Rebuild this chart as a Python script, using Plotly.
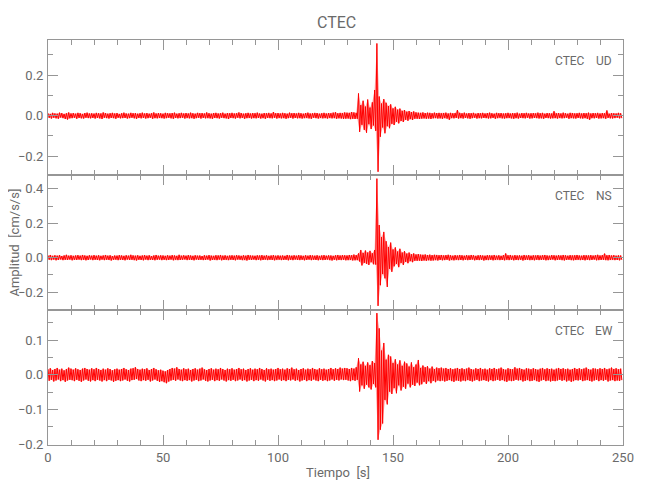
import numpy as np
import plotly.graph_objects as go

# Seismogram amplitudes, read per 1-second bin (max and min), in 1e-3 cm/s/s
DT = 1.0  # seconds per bin
UNIT = 0.001

ud_max = [
    12, 9, 14, 11, 10, 15, 13, 9, 12, 16,
    11, 13, 10, 14, 12, 9, 13, 15, 11, 12,
    10, 14, 12, 11, 16, 13, 10, 12, 14, 11,
    13, 9, 12, 15, 11, 10, 14, 12, 13, 10,
    12, 15, 11, 13, 10, 12, 16, 11, 13, 12,
    10, 14, 12, 11, 13, 15, 10, 12, 14, 11,
    13, 11, 15, 12, 10, 14, 12, 13, 11, 16,
    12, 10, 13, 14, 11, 12, 15, 10, 13, 12,
    14, 11, 12, 16, 13, 10, 12, 14, 11, 13,
    12, 15, 11, 10, 13, 12, 14, 11, 18, 12,
    13, 11, 14, 12, 10, 15, 12, 13, 11, 14,
    12, 10, 13, 15, 11, 12, 14, 13, 10, 12,
    14, 11, 13, 12, 15, 17, 12, 14, 13, 16,
    15, 14, 18, 16, 14, 110, 52, 74, 45, 80,
    40, 66, 127, 357, 95, 60, 82, 64, 48, 56,
    36, 44, 30, 35, 24, 28, 20, 23, 18, 21,
    16, 15, 14, 16, 13, 15, 14, 12, 15, 13,
    14, 12, 13, 15, 11, 14, 12, 13, 28, 14,
    12, 15, 11, 13, 12, 14, 10, 13, 12, 14,
    11, 13, 15, 12, 10, 14, 12, 13, 11, 12,
    14, 11, 13, 12, 15, 10, 13, 12, 14, 11,
    12, 13, 11, 15, 12, 14, 10, 13, 12, 11,
    22, 12, 13, 11, 15, 12, 10, 14, 13, 11,
    12, 14, 11, 13, 12, 15, 11, 13, 12, 14,
    11, 13, 12, 26, 10, 13, 12, 11, 14, 12,
]
ud_min = [
    -11, -14, -10, -13, -15, -9, -12, -16, -19, -13,
    -12, -10, -15, -11, -13, -14, -10, -12, -13, -11,
    -14, -11, -13, -16, -10, -12, -14, -11, -12, -15,
    -10, -13, -12, -11, -14, -12, -10, -13, -15, -11,
    -13, -11, -14, -12, -10, -15, -12, -13, -11, -12,
    -14, -12, -10, -13, -15, -11, -13, -12, -10, -14,
    -11, -13, -12, -15, -12, -10, -14, -11, -13, -12,
    -13, -15, -11, -12, -14, -10, -12, -13, -16, -11,
    -12, -14, -10, -13, -11, -15, -12, -11, -14, -12,
    -13, -11, -14, -12, -15, -11, -12, -13, -10, -14,
    -11, -13, -12, -15, -12, -10, -14, -11, -13, -12,
    -14, -12, -11, -13, -15, -10, -12, -14, -11, -13,
    -12, -14, -11, -13, -12, -15, -13, -14, -16, -15,
    -14, -17, -15, -16, -15, -80, -45, -70, -84, -42,
    -66, -48, -75, -277, -104, -58, -87, -52, -62, -40,
    -46, -30, -38, -26, -31, -20, -25, -17, -21, -15,
    -15, -16, -14, -13, -15, -14, -16, -13, -12, -14,
    -13, -15, -12, -14, -20, -12, -13, -11, -14, -12,
    -14, -11, -13, -15, -12, -10, -14, -12, -13, -11,
    -12, -14, -13, -11, -15, -12, -10, -13, -14, -12,
    -11, -13, -15, -12, -14, -11, -12, -13, -10, -14,
    -13, -11, -12, -14, -13, -15, -11, -12, -14, -13,
    -12, -14, -11, -13, -12, -10, -15, -12, -13, -14,
    -11, -13, -14, -12, -15, -20, -12, -13, -11, -14,
    -13, -12, -15, -11, -13, -14, -12, -10, -13, -12,
]

ns_max = [
    13, 16, 11, 14, 12, 15, 10, 13, 17, 12,
    14, 11, 13, 15, 12, 16, 13, 11, 14, 12,
    15, 12, 14, 11, 13, 16, 12, 14, 10, 13,
    12, 15, 13, 11, 14, 12, 17, 13, 12, 14,
    11, 13, 15, 12, 14, 10, 13, 16, 12, 14,
    13, 11, 14, 12, 15, 13, 11, 17, 12, 14,
    12, 15, 13, 11, 14, 12, 13, 10, 14, 12,
    15, 12, 11, 14, 13, 16, 12, 14, 11, 13,
    14, 12, 15, 13, 11, 14, 12, 16, 13, 12,
    11, 14, 13, 15, 12, 14, 11, 13, 15, 12,
    14, 12, 13, 11, 16, 13, 12, 14, 12, 15,
    13, 11, 14, 12, 15, 13, 12, 14, 11, 13,
    15, 12, 14, 13, 11, 14, 16, 13, 15, 14,
    13, 16, 14, 18, 15, 25, 45, 28, 42, 30,
    40, 26, 45, 460, 190, 120, 150, 96, 62, 88,
    48, 60, 36, 52, 30, 38, 24, 30, 20, 25,
    19, 21, 18, 17, 19, 16, 18, 15, 17, 16,
    14, 16, 13, 15, 17, 14, 12, 15, 13, 16,
    14, 12, 15, 13, 16, 14, 11, 14, 15, 13,
    12, 15, 14, 13, 16, 12, 14, 11, 15, 25,
    14, 16, 12, 15, 13, 14, 12, 16, 13, 15,
    12, 14, 13, 15, 12, 14, 16, 13, 12, 15,
    14, 12, 15, 13, 16, 14, 12, 15, 13, 14,
    16, 13, 12, 15, 14, 13, 15, 12, 14, 17,
    13, 15, 24, 14, 16, 13, 15, 12, 14, 13,
]
ns_min = [
    -12, -14, -11, -15, -13, -10, -14, -12, -13, -11,
    -15, -12, -13, -11, -14, -12, -15, -13, -10, -14,
    -12, -13, -15, -11, -14, -12, -13, -16, -12, -11,
    -14, -12, -13, -15, -11, -13, -12, -14, -16, -12,
    -13, -15, -11, -14, -12, -13, -15, -12, -11, -14,
    -12, -14, -13, -11, -15, -12, -14, -13, -12, -10,
    -14, -12, -13, -15, -11, -13, -12, -14, -13, -11,
    -16, -13, -12, -14, -11, -15, -13, -12, -14, -12,
    -13, -15, -11, -12, -14, -13, -16, -12, -13, -11,
    -14, -12, -15, -13, -11, -14, -12, -13, -15, -12,
    -11, -14, -13, -12, -15, -12, -14, -11, -13, -14,
    -12, -15, -13, -11, -14, -12, -13, -15, -12, -14,
    -13, -11, -14, -16, -12, -15, -13, -14, -12, -15,
    -14, -13, -16, -15, -14, -22, -45, -30, -35, -42,
    -26, -38, -40, -280, -160, -95, -120, -170, -64, -82,
    -50, -36, -55, -30, -42, -24, -32, -20, -26, -18,
    -18, -17, -19, -16, -18, -15, -17, -16, -14, -16,
    -13, -15, -14, -12, -16, -13, -15, -12, -14, -13,
    -15, -12, -14, -13, -11, -15, -13, -14, -12, -16,
    -13, -14, -12, -15, -13, -11, -14, -13, -15, -12,
    -14, -12, -15, -13, -14, -12, -16, -13, -12, -14,
    -13, -15, -12, -14, -13, -12, -15, -14, -13, -11,
    -15, -13, -12, -14, -16, -13, -12, -14, -15, -13,
    -12, -14, -13, -15, -12, -14, -13, -11, -15, -14,
    -13, -12, -14, -15, -13, -12, -14, -13, -15, -12,
]

ew_max = [
    16, 19, 14, 17, 20, 15, 18, 13, 17, 21,
    18, 15, 19, 16, 14, 18, 20, 17, 15, 19,
    16, 20, 17, 14, 18, 15, 19, 17, 13, 16,
    18, 15, 17, 20, 16, 14, 18, 19, 22, 17,
    15, 18, 16, 19, 14, 17, 20, 16, 13, 15,
    12, 10, 14, 17, 20, 18, 22, 17, 15, 19,
    16, 18, 14, 17, 19, 15, 18, 21, 16, 14,
    17, 19, 15, 18, 16, 20, 17, 14, 18, 16,
    19, 15, 17, 20, 16, 18, 14, 17, 19, 15,
    18, 16, 20, 17, 14, 19, 16, 18, 15, 17,
    20, 16, 18, 15, 19, 17, 21, 16, 18, 14,
    17, 19, 15, 18, 16, 20, 17, 15, 19, 16,
    18, 15, 17, 20, 16, 19, 17, 21, 18, 20,
    19, 17, 20, 18, 22, 48, 30, 38, 26, 36,
    28, 40, 34, 178, 134, 70, 92, 44, 58, 53,
    34, 45, 30, 42, 26, 38, 33, 24, 36, 22,
    30, 43, 20, 27, 22, 25, 18, 24, 17, 21,
    19, 21, 18, 20, 17, 19, 16, 18, 20, 17,
    19, 16, 18, 21, 17, 15, 19, 17, 20, 16,
    18, 15, 19, 17, 20, 16, 18, 21, 17, 15,
    19, 17, 16, 22, 18, 20, 17, 15, 19, 18,
    16, 19, 17, 15, 18, 20, 16, 19, 17, 18,
    15, 18, 20, 17, 19, 16, 18, 15, 17, 20,
    17, 19, 16, 18, 21, 17, 15, 19, 18, 16,
    19, 17, 20, 16, 18, 21, 17, 19, 16, 18,
]
ew_min = [
    -17, -14, -19, -16, -13, -18, -15, -20, -16, -14,
    -15, -18, -14, -17, -20, -16, -13, -17, -19, -15,
    -18, -14, -16, -19, -15, -18, -14, -16, -20, -17,
    -15, -18, -16, -13, -17, -19, -15, -14, -12, -16,
    -18, -15, -17, -14, -19, -16, -13, -17, -20, -18,
    -21, -24, -19, -16, -14, -17, -13, -16, -18, -15,
    -17, -15, -19, -16, -14, -18, -16, -13, -17, -19,
    -16, -14, -18, -15, -17, -13, -16, -19, -15, -17,
    -14, -18, -16, -13, -17, -15, -19, -16, -14, -18,
    -15, -17, -13, -16, -19, -14, -17, -15, -18, -16,
    -13, -17, -15, -18, -14, -16, -13, -17, -15, -19,
    -16, -14, -18, -15, -17, -13, -16, -18, -14, -17,
    -15, -18, -16, -13, -17, -14, -16, -13, -15, -14,
    -16, -18, -15, -17, -14, -48, -30, -40, -28, -36,
    -42, -26, -36, -187, -158, -140, -72, -85, -48, -55,
    -38, -53, -30, -45, -34, -40, -25, -36, -28, -32,
    -22, -30, -27, -20, -26, -18, -24, -17, -21, -16,
    -18, -16, -19, -17, -15, -18, -20, -16, -17, -19,
    -16, -18, -15, -17, -19, -16, -14, -18, -16, -15,
    -17, -19, -15, -18, -16, -14, -17, -15, -18, -20,
    -16, -18, -17, -14, -16, -15, -19, -17, -15, -18,
    -17, -15, -18, -20, -16, -14, -18, -16, -19, -17,
    -18, -16, -14, -17, -15, -19, -16, -20, -18, -15,
    -16, -14, -18, -16, -15, -17, -19, -16, -14, -18,
    -15, -17, -14, -19, -16, -15, -18, -16, -17, -15,
]

station = "CTEC"
components = ["UD", "NS", "EW"]
y_ranges = [[-0.293, 0.374], [-0.304, 0.481], [-0.202, 0.187]]
y_dticks = [0.2, 0.2, 0.1]
y_minor = [0.1, 0.1, 0.05]
x_range = [0, 250]

FONT = "Roboto, Liberation Sans, sans-serif"
AX = "#969696"
TXT = "#6a6a6a"
RED = "#ff0000"

fig = go.Figure()
series = [(ud_max, ud_min), (ns_max, ns_min), (ew_max, ew_min)]
for k, (mx, mn) in enumerate(series):
    n = min(len(mx), len(mn))
    t = np.arange(n) * DT
    up_x = list(t)
    up_y = [v * UNIT for v in mx[:n]]
    lo_x = list(t + DT / 2)
    lo_y = [v * UNIT for v in mn[:n]]
    sfx = "" if k == 0 else str(k + 1)
    # dense-trace band (min/max envelope of each bin)
    fig.add_trace(go.Scatter(x=up_x + lo_x[::-1], y=up_y + lo_y[::-1], mode="lines",
                             fill="toself", fillcolor="rgba(255,0,0,0.35)",
                             line=dict(width=0), xaxis="x" + sfx, yaxis="y" + sfx,
                             hoverinfo="skip", showlegend=False))
    # zig-zag through the per-bin extremes
    xs, ys = [], []
    for i in range(n):
        xs += [up_x[i], lo_x[i]]
        ys += [up_y[i], lo_y[i]]
    fig.add_trace(go.Scatter(x=xs, y=ys, mode="lines",
                             line=dict(color=RED, width=1),
                             xaxis="x" + sfx, yaxis="y" + sfx,
                             hoverinfo="skip", showlegend=False))

common = dict(showline=True, linecolor=AX, linewidth=1, mirror="allticks",
              ticks="inside", ticklen=10, tickwidth=1, tickcolor=AX,
              showgrid=False, zeroline=False,
              tickfont=dict(family=FONT, size=13, color=TXT))

# page body adds an 8 px margin, so the figure is 8 px smaller than the window
layout = dict(width=642, height=492,
              margin=dict(l=40, r=27, t=32, b=55, autoexpand=False),
              paper_bgcolor="white", plot_bgcolor="white", showlegend=False)

doms = [[2 / 3, 1], [1 / 3, 2 / 3], [0, 1 / 3]]
for k in range(3):
    sfx = "" if k == 0 else str(k + 1)
    layout["xaxis" + sfx] = dict(common, domain=[0, 1], range=x_range, tick0=0, dtick=50,
                                 anchor="y" + sfx, showticklabels=(k == 2),
                                 minor=dict(ticks="inside", ticklen=5, tickcolor=AX, dtick=10, showgrid=False))
    layout["yaxis" + sfx] = dict(common, domain=doms[k], range=y_ranges[k], tick0=0,
                                 dtick=y_dticks[k], tickformat=".1f", anchor="x" + sfx,
                                 ticklabelstandoff=1,
                                 minor=dict(ticks="inside", ticklen=5, tickcolor=AX, dtick=y_minor[k], showgrid=False))
fig.update_layout(**layout)

def note(text, x, y, size, angle=0):
    return dict(text=text, x=x, y=y, xref="paper", yref="paper", xanchor="center",
                yanchor="middle", textangle=angle, showarrow=False,
                font=dict(family=FONT, size=size, color=TXT))

ann = [note(station, 0.502, 1.044, 16),
       note("Tiempo  [s]", 0.504, -0.068, 13),
       note("Amplitud  [cm/s/s]", -0.059, 0.5, 13, -90)]
label_y = [0.948, 0.615, 0.281]
for k, comp in enumerate(components):
    ann.append(note(station, 0.908, label_y[k], 12))
    ann.append(note(comp, 0.967, label_y[k], 12))
fig.update_layout(annotations=ann)

fig.write_html("out.html")
